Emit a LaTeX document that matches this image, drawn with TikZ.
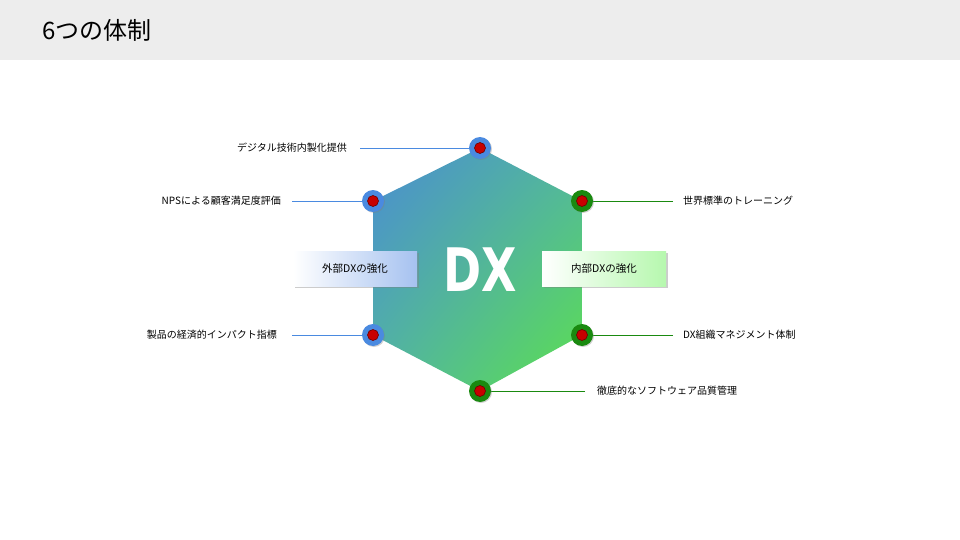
\documentclass[tikz,border=0pt]{standalone}
\usepackage{fontspec}
\setmainfont{Noto Sans CJK JP}
\newfontfamily\dxfont{DejaVu Sans Condensed}
\usetikzlibrary{shadows,shadings}
\definecolor{bluedot}{HTML}{4A8AE0}
\definecolor{greendot}{HTML}{1A8A10}
\definecolor{hexblue}{HTML}{4A8CD2}
\definecolor{hexgreen}{HTML}{5CE04E}
\definecolor{hexmid}{HTML}{52B6A0}
\definecolor{boxblue}{HTML}{A6C2F0}
\definecolor{boxgreen}{HTML}{B6F8AE}
\definecolor{redcore}{HTML}{C80000}
\definecolor{redrim}{HTML}{6E0000}
\tikzset{
  lbl/.style={font=\fontsize{10}{12}\selectfont, inner sep=0pt},
  bline/.style={draw=bluedot, line width=0.7pt},
  gline/.style={draw=greendot, line width=0.7pt},
  dot/.style={circle, minimum size=22pt, inner sep=0pt, drop shadow={opacity=0.35, shadow xshift=1pt, shadow yshift=-1pt}},
  core/.style={circle, fill=redcore, draw=redrim, line width=0.6pt, minimum size=11pt, inner sep=0pt},
  sbox/.style={minimum width=124pt, minimum height=35pt, inner sep=0pt, font=\fontsize{10.5}{12}\selectfont, drop shadow={opacity=0.4, shadow xshift=1.5pt, shadow yshift=-1.5pt}}
}
\begin{document}
\begin{tikzpicture}[x=1pt,y=-1pt]
\useasboundingbox (0,0) rectangle (960,540);
\fill[white] (0,0) rectangle (960,540);
\fill[gray!14] (0,0) rectangle (960,60);
\node[anchor=west, font=\fontsize{24}{28}\selectfont, inner sep=0pt] (title) at (42,30) {6つの体制};
% hexagon
\coordinate (vt) at (480,148);
\coordinate (vul) at (373,201);
\coordinate (vll) at (373,335);
\coordinate (vb) at (480,391);
\coordinate (vur) at (582,201);
\coordinate (vlr) at (582,335);
\begin{scope}
\clip (vt) -- (vur) -- (vlr) -- (vb) -- (vll) -- (vul) -- cycle;
\shade[upper left=hexblue, lower right=hexgreen, upper right=hexmid, lower left=hexmid] (373,148) rectangle (582,391);
\end{scope}
\node[text=white, font=\dxfont\bfseries\fontsize{60}{60}\selectfont, xscale=0.85, inner sep=0pt] (dx) at (480,270) {DX};
% boxes
\node[sbox, left color=white, right color=boxblue] (ext) at (355,268.5) {外部DXの強化};
\node[sbox, left color=white, right color=boxgreen] (int) at (604,268.5) {内部DXの強化};
% labels
\node[lbl, anchor=east] (l1) at (347,148) {デジタル技術内製化提供};
\node[lbl, anchor=east] (l2) at (281,201) {NPSによる顧客満足度評価};
\node[lbl, anchor=east] (l3) at (277,335) {製品の経済的インパクト指標};
\node[lbl, anchor=west] (r1) at (683,201) {世界標準のトレーニング};
\node[lbl, anchor=west] (r2) at (683,335) {DX組織マネジメント体制};
\node[lbl, anchor=west] (r3) at (597,391) {徹底的なソフトウェア品質管理};
\coordinate (c1) at (360,148);
\coordinate (c2) at (292,201);
\coordinate (c3) at (292,335);
\coordinate (c4) at (673,201);
\coordinate (c5) at (673,335);
\coordinate (c6) at (585,391);
\draw[bline] (c1) -- (vt);
\draw[bline] (c2) -- (vul);
\draw[bline] (c3) -- (vll);
\draw[gline] (c4) -- (vur);
\draw[gline] (c5) -- (vlr);
\draw[gline] (c6) -- (vb);
% dots
\foreach \p/\c in {vt/bluedot, vul/bluedot, vll/bluedot, vur/greendot, vlr/greendot, vb/greendot}{
  \node[dot, fill=\c] (d\p) at (\p) {};
  \node[core] (k\p) at (\p) {};
}
\end{tikzpicture}
\end{document}
